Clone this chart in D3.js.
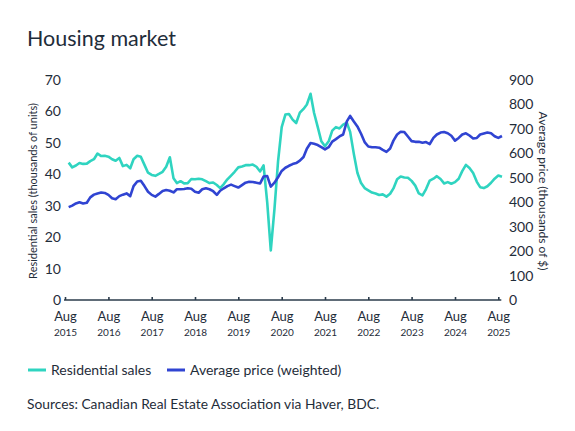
<!DOCTYPE html>
<html>
<head>
<meta charset="utf-8">
<script src="https://cdn.jsdelivr.net/npm/d3@7"></script>
<style>
  body { margin: 0; background: #fff; }
  text { font-family: Lato, "Noto Sans", sans-serif; fill: #1f2d3a; }
</style>
</head>
<body>
<div id="chart"></div>
<script>
// monthly data, Sep 2015 .. Sep 2025
var firstMonth = new Date(2015, 8, 1)
var lastMonth = new Date(2025, 8, 1)

// residential sales (thousands of units)
var sales = [
  43.7, 42.2, 42.8, 43.6, 43.3, 43.4, 44.2, 44.8, 46.6, 45.8, 45.9, 45.6,
  44.8, 44.3, 45.2, 42.6, 43.0, 41.9, 44.8, 45.9, 45.6, 43.0, 40.5, 39.8,
  39.5, 40.1, 40.8, 42.4, 45.4, 38.7, 37.2, 37.8, 37.1, 37.2, 38.5, 38.4,
  38.6, 38.4, 37.8, 37.2, 37.4, 36.6, 35.6, 36.9, 38.4, 39.6, 40.8, 42.2,
  42.5, 42.9, 42.9, 43.1, 42.4, 40.9, 42.8, 31.0, 15.8, 29.0, 44.0, 55.0,
  59.0, 59.2, 57.4, 56.3, 59.6, 60.8, 62.2, 65.6, 59.5, 55.0, 50.5, 48.9,
  50.5, 53.9, 55.0, 54.6, 55.8, 56.4, 53.5, 46.5, 40.5, 37.2, 35.6, 34.9,
  34.2, 33.9, 33.4, 33.6, 32.9, 33.8, 35.5, 38.4, 39.3, 39.0, 38.9, 37.9,
  36.4, 33.9, 33.3, 35.3, 38.0, 38.6, 39.4, 38.5, 37.1, 37.5, 37.0, 37.5,
  38.6, 41.0, 43.0, 42.0, 40.4, 37.6, 35.9, 35.6, 36.2, 37.3, 38.6, 39.6,
  39.2
]

// average price, weighted (thousands of $)
var price = [
  380, 386, 395, 400, 395, 398, 420, 431, 436, 440, 438, 430,
  416, 412, 425, 431, 436, 425, 466, 485, 488, 466, 443, 430,
  423, 434, 446, 450, 447, 440, 453, 453, 454, 457, 455, 443,
  439, 453, 457, 453, 445, 430, 447, 457, 466, 472, 466, 460,
  470, 480, 484, 483, 480, 477, 505, 507, 464, 480, 502, 528,
  541, 549, 556, 560, 570, 585, 619, 642, 639, 634, 625, 616,
  625, 648, 658, 669, 677, 731, 753, 730, 710, 680, 646, 628,
  625, 625, 623, 614, 606, 620, 652, 677, 688, 687, 669, 650,
  647, 647, 643, 646, 638, 663, 677, 685, 687, 682, 672, 652,
  663, 677, 682, 673, 661, 663, 677, 681, 685, 682, 670, 663,
  671
]

var leftTicks = [0, 10, 20, 30, 40, 50, 60, 70]
var rightTicks = [0, 100, 200, 300, 400, 500, 600, 700, 800, 900]
var tickYears = [2015, 2016, 2017, 2018, 2019, 2020, 2021, 2022, 2023, 2024, 2025]
var seriesNames = ['Residential sales', 'Average price (weighted)']

var W = 575, H = 431
var plot = {left: 65, right: 498.3, top: 80, bottom: 300}
var teal = '#2fd4c0', blue = '#3044d2', ink = '#1f2d3a'

var months = d3.timeMonth.range(firstMonth, d3.timeMonth.offset(lastMonth, 1))

var x = d3.scaleTime()
    .domain([new Date(2015, 7, 1), new Date(2025, 7, 1)])
    .range([plot.left, plot.right])
var yL = d3.scaleLinear().domain([0, 70]).range([plot.bottom, plot.top])
var yR = d3.scaleLinear().domain([0, 900]).range([plot.bottom, plot.top])

var svg = d3.select('#chart').append('svg')
    .attr('width', W)
    .attr('height', H)

// title
svg.append('text')
    .attr('x', 27)
    .attr('y', 46)
    .style('font-size', '21.5px')
    .text('Housing market')

// left axis (labels only)
var gl = svg.append('g')
    .attr('transform', 'translate(' + (plot.left - 4) + ',0)')
    .call(d3.axisLeft(yL).tickValues(leftTicks).tickSize(0).tickPadding(0))
gl.select('.domain').remove()
gl.selectAll('text').style('font-size', '14px').style('fill', ink).style('font-family', null)

// right axis (labels only)
var gr = svg.append('g')
    .attr('transform', 'translate(509,0)')
    .call(d3.axisRight(yR).tickValues(rightTicks).tickSize(0).tickPadding(0))
gr.select('.domain').remove()
gr.selectAll('text').style('font-size', '14px').style('fill', ink).style('font-family', null)

// axis titles
svg.append('text')
    .attr('transform', 'translate(37,191) rotate(-90)')
    .attr('text-anchor', 'middle')
    .style('font-size', '11px')
    .text('Residential sales (thousands of units)')

svg.append('text')
    .attr('transform', 'translate(539,191) rotate(90)')
    .attr('text-anchor', 'middle')
    .style('font-size', '12px')
    .text('Average price (thousands of $)')

// lines
var salesLine = d3.line()
    .x(function(d, i) { return x(months[i]) })
    .y(function(d) { return yL(d) })
var priceLine = d3.line()
    .x(function(d, i) { return x(months[i]) })
    .y(function(d) { return yR(d) })

svg.append('path')
    .datum(sales)
    .attr('fill', 'none')
    .attr('stroke', teal)
    .attr('stroke-width', 2.6)
    .attr('stroke-linejoin', 'round')
    .attr('d', salesLine)

svg.append('path')
    .datum(price)
    .attr('fill', 'none')
    .attr('stroke', blue)
    .attr('stroke-width', 2.6)
    .attr('stroke-linejoin', 'round')
    .attr('d', priceLine)

// x axis
var gx = svg.append('g')
    .attr('transform', 'translate(0,' + plot.bottom + ')')
    .call(d3.axisBottom(x)
      .tickValues(tickYears.map(function(y) { return new Date(y, 7, 1) }))
      .tickSize(-3)
      .tickSizeOuter(0)
      .tickFormat(''))
gx.select('.domain').attr('d', 'M' + (plot.left - 1) + ',0H' + (plot.right + 3))
gx.selectAll('path, line').attr('stroke', '#2b3b4b').attr('stroke-width', 1.6)

var lab = gx.selectAll('.tick')
lab.append('text')
    .attr('y', 21)
    .attr('text-anchor', 'middle')
    .style('font-size', '13px')
    .style('fill', ink)
    .style('font-family', null)
    .text('Aug')
lab.append('text')
    .attr('y', 36)
    .attr('text-anchor', 'middle')
    .style('font-size', '10px')
    .style('fill', ink)
    .style('font-family', null)
    .text(function(d) { return d.getFullYear() })

// legend
var legend = svg.append('g').attr('transform', 'translate(0,370)')
var legendX = [28, 167]
var legendColor = [teal, blue]
seriesNames.forEach(function(name, i) {
  legend.append('line')
      .attr('x1', legendX[i]).attr('x2', legendX[i] + 18)
      .attr('y1', 0).attr('y2', 0)
      .attr('stroke', legendColor[i])
      .attr('stroke-width', 3)
  legend.append('text')
      .attr('x', legendX[i] + 23)
      .attr('y', 5)
      .style('font-size', '14px')
      .text(name)
})

// source
svg.append('text')
    .attr('x', 27)
    .attr('y', 409)
    .style('font-size', '13.8px')
    .text('Sources: Canadian Real Estate Association via Haver, BDC.')
</script>
</body>
</html>
